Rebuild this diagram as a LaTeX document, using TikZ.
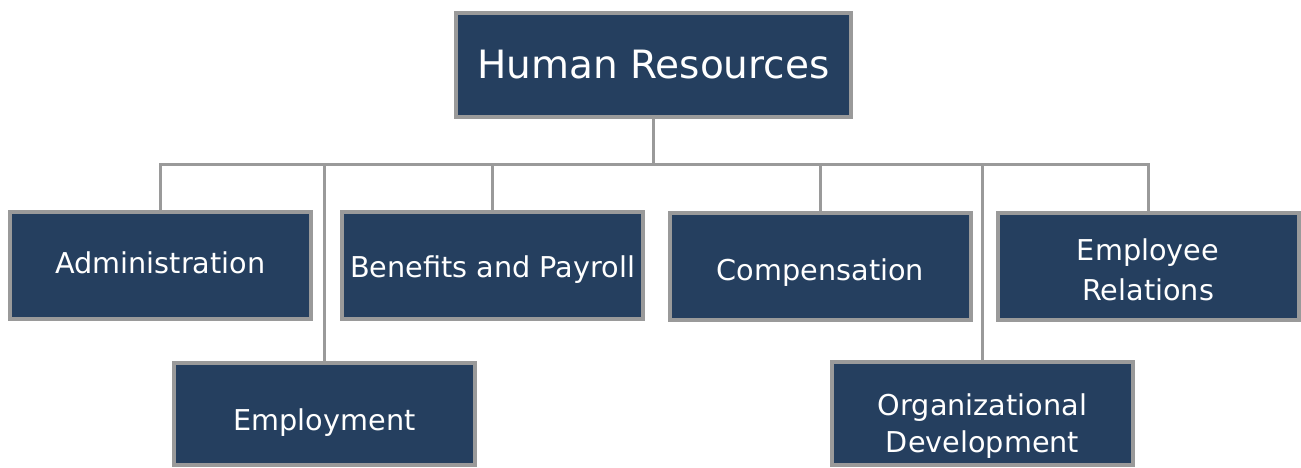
\documentclass[tikz,border=0pt]{standalone}
\usepackage{fontspec}
\setmainfont{DejaVu Sans}
\definecolor{boxfill}{HTML}{253F5F}
\definecolor{boxline}{HTML}{9A9A9A}
\newcommand{\onelabel}[2]{\raisebox{#1}[0pt][0pt]{#2}}
\newcommand{\twolabel}[3]{\raisebox{#1}[0pt][0pt]{\begin{tabular}[t]{@{}c@{}}#2\\#3\end{tabular}}}
\tikzset{
  unit/.style={draw=boxline, line width=4pt, fill=boxfill, text=white, align=center,
    inner sep=0pt, outer sep=0pt, minimum width=301pt, minimum height=107pt,
    font=\fontsize{28.7pt}{40pt}\selectfont},
  head/.style={unit, minimum width=395pt, minimum height=104pt,
    font=\fontsize{39pt}{46pt}\selectfont},
  link/.style={draw=boxline, line width=3pt}
}
\begin{document}
\begin{tikzpicture}[x=1pt,y=-1pt]
\useasboundingbox (0,0) rectangle (1301,468);
\node[head] (hr) at (653.5,65) {\onelabel{-14pt}{Human Resources}};
\node[unit] (adm) at (160.5,265.5) {\onelabel{-7.5pt}{Administration}};
\node[unit] (ben) at (492.5,265.5) {\onelabel{-11.5pt}{Benefits and Payroll}};
\node[unit] (com) at (820.5,266) {\onelabel{-14pt}{Compensation}};
\node[unit] (er) at (1148,266) {\twolabel{6pt}{Employee}{Relations}};
\node[unit, minimum height=102pt] (emp) at (324.5,414) {\onelabel{-16pt}{Employment}};
\node[unit, minimum height=103pt, font=\fontsize{28.7pt}{37pt}\selectfont] (od) at (982.5,413.5) {\twolabel{-1.5pt}{Organizational}{Development}};
\coordinate (bus) at (653.5,164);
\draw[link] (hr.south) -- (bus);
\draw[link] (adm.north) -- (adm.north |- bus) -- (er.north |- bus) -- (er.north);
\draw[link] (ben.north) -- (ben.north |- bus);
\draw[link] (com.north) -- (com.north |- bus);
\draw[link] (emp.north) -- (emp.north |- bus);
\draw[link] (od.north) -- (od.north |- bus);
\end{tikzpicture}
\end{document}
